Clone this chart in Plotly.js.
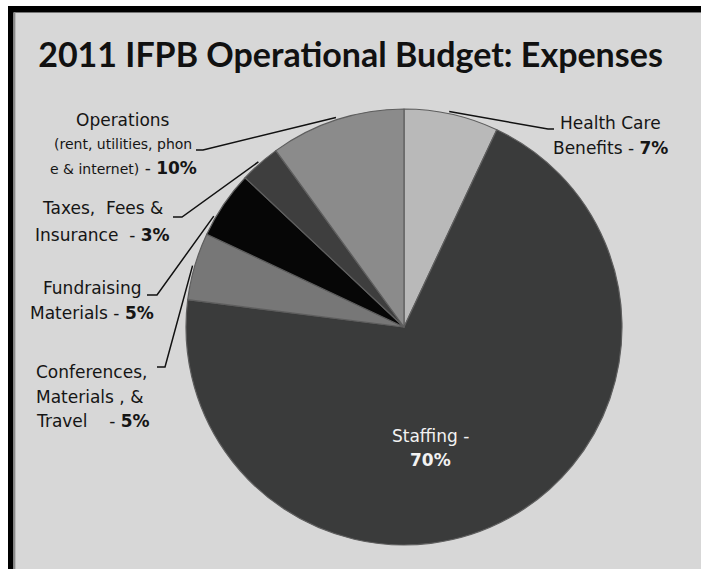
<!DOCTYPE html>
<html>
<head>
<meta charset="utf-8">
<script src="https://cdn.plot.ly/plotly-3.0.1.min.js"></script>
<style>html,body{margin:0;padding:0;background:#d7d7d7;overflow:hidden;}#chart{width:701px;height:569px;}</style>
</head>
<body>
<div id="chart"></div>
<script>
// ---- data ----
const categories = ["Health Care Benefits", "Staffing", "Conferences, Materials, & Travel", "Fundraising Materials", "Taxes, Fees & Insurance", "Operations"];
const values = [7, 70, 5, 5, 3, 10];
const colors = ["#b9b9b9", "#3a3b3b", "#777777", "#060606", "#3e3e3e", "#8b8b8b"];
const chartTitle = "2011 IFPB Operational Budget: Expenses";
// label lines; {p} is replaced by the slice's percentage
const labelLines = [
  ["Health Care", "Benefits - <b>{p}</b>"],
  ["Staffing -", "<b>{p}</b>"],
  ["Conferences,", "Materials , &", "Travel\u00a0\u00a0\u00a0\u00a0- <b>{p}</b>"],
  ["Fundraising", "Materials - <b>{p}</b>"],
  ["Taxes,\u00a0\u00a0Fees &", "Insurance\u00a0\u00a0- <b>{p}</b>"],
  ["Operations", "<span style='font-size:14px'>(rent, utilities, phon</span>", "<span style='font-size:14px'>e & internet)</span> - <b>{p}</b>"]
];

// ---- layout geometry (pixels) ----
const W = 701, H = 569;
const CX = 404, CY = 327, R = 218;
const labelPos = [
  {x: 610, y: 123, gap: 25, anchor: "center", color: "#151515", elbow: [548, 129], end: 554, f: 0.47},
  {x: 430, y: 436, gap: 24, anchor: "center", color: "#f2f2f2", elbow: null},
  {x: 34,  y: 372, gap: 24.5, anchor: "left", color: "#151515", elbow: [165, 367], end: 157, f: 0.5},
  {x: 92,  y: 288, gap: 25, anchor: "center", color: "#151515", elbow: [157, 295], end: 147, f: 0.28},
  {x: 102, y: 208, gap: 27, anchor: "center", color: "#151515", elbow: [182, 217], end: 173, f: 0.5},
  {x: 123, y: 120, gap: 24, anchor: "center", color: "#151515", elbow: [203, 150], end: 196, f: 0.5}
];

const px = v => v / W;
const py = v => 1 - v / H;

const total = values.reduce((a, b) => a + b, 0);
const annotations = [];
const rect = (x0, x1, y0, y1, c) => ({type: "rect", xref: "paper", yref: "paper",
  x0: px(x0), x1: px(x1), y0: py(y1), y1: py(y0), fillcolor: c, line: {width: 0}, layer: "below"});
const shapes = [
  rect(0, W, 0, H, "#ffffff"),
  rect(15.5, W, 12.5, H, "#d7d7d7"),
  rect(8, 13.5, 6, H, "#000000"),
  rect(8, W, 6, 12.5, "#000000"),
  rect(13.5, 15.5, 12.5, H, "#8a8a8a")
];

let cum = 0;
values.forEach((v, i) => {
  const lp = labelPos[i];
  const at = (cum + v * (lp.f === undefined ? 0.5 : lp.f)) / total;
  cum += v;
  const th = 2 * Math.PI * at;
  const tipX = CX + R * 1.01 * Math.sin(th);
  const tipY = CY - R * 1.01 * Math.cos(th);
  labelLines[i].forEach((line, k) => {
    annotations.push({
      xref: "paper", yref: "paper",
      x: px(lp.x), y: py(lp.y + k * lp.gap),
      xanchor: lp.anchor, yanchor: "middle",
      text: line.replace("{p}", v + "%"),
      showarrow: false,
      font: {family: "DejaVu Sans", size: 17, color: lp.color}
    });
  });
  if (lp.elbow) {
    shapes.push({
      type: "path", xref: "paper", yref: "paper",
      path: `M ${px(lp.end)} ${py(lp.elbow[1])} L ${px(lp.elbow[0])} ${py(lp.elbow[1])} L ${px(tipX)} ${py(tipY)}`,
      line: {color: "#111", width: 1.5}
    });
  }
});

const trace = {
  type: "pie",
  labels: categories,
  values: values,
  sort: false,
  direction: "clockwise",
  rotation: 0,
  textinfo: "none",
  hoverinfo: "label+percent",
  marker: {colors: colors, line: {color: "#5e5e5e", width: 1.2}},
  domain: {x: [px(CX - R), px(CX + R)], y: [py(CY + R), py(CY - R)]},
  showlegend: false
};

const layout = {
  width: W, height: H,
  margin: {l: 0, r: 0, t: 0, b: 0},
  paper_bgcolor: "#d7d7d7",
  title: {
    text: "<b>" + chartTitle + "</b>",
    x: 0.5, xanchor: "center",
    y: py(55), yanchor: "middle",
    font: {family: "Lato", size: 34, weight: 900, color: "#111"}
  },
  annotations: annotations,
  shapes: shapes,
  showlegend: false
};

Plotly.newPlot("chart", [trace], layout, {displayModeBar: false, staticPlot: true});
</script>
</body>
</html>
